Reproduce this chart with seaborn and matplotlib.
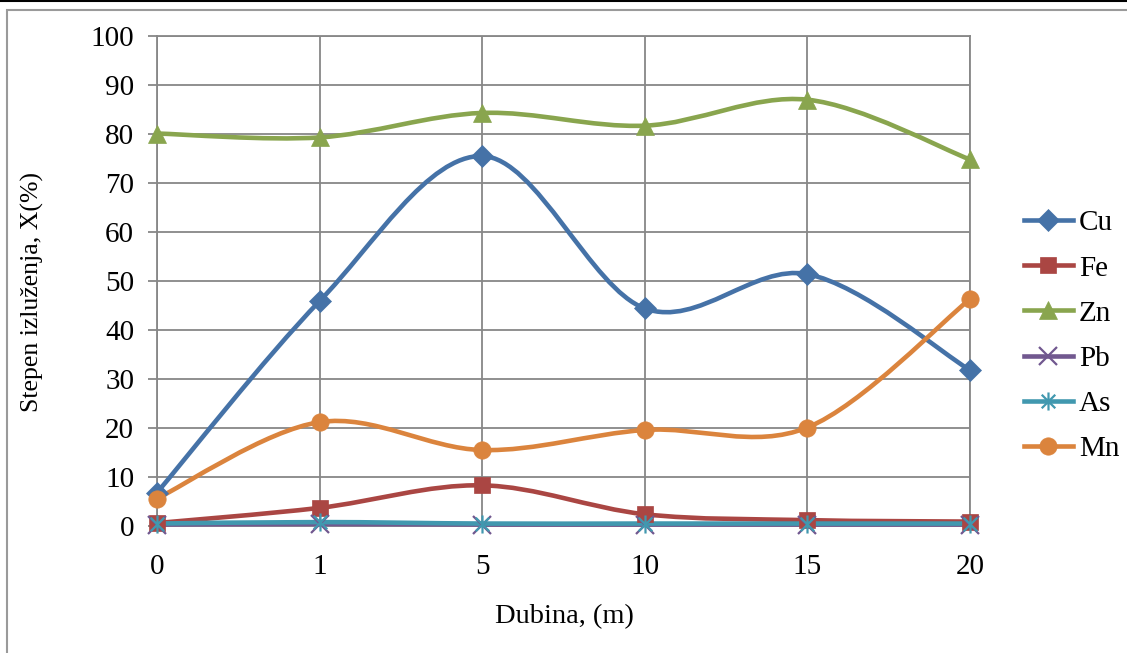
import numpy as np
import pandas as pd
import seaborn as sns
import matplotlib.pyplot as plt
from matplotlib.path import Path
from matplotlib.patches import PathPatch, Rectangle
from matplotlib.lines import Line2D

# depth categories (evenly spaced on the axis)
depths = ['0', '1', '5', '10', '15', '20']

cu = [6.8, 45.9, 75.5, 44.4, 51.4, 31.8]
fe = [0.6, 3.7, 8.3, 2.4, 1.2, 0.9]
zn = [80.1, 79.3, 84.3, 81.7, 87.0, 74.8]
pb = [0.3, 0.4, 0.3, 0.3, 0.3, 0.3]
as_ = [0.5, 0.8, 0.5, 0.5, 0.5, 0.5]
mn = [5.6, 21.2, 15.5, 19.6, 20.1, 46.3]

series_names = ['Cu', 'Fe', 'Zn', 'Pb', 'As', 'Mn']
series_vals = [cu, fe, zn, pb, as_, mn]

colors = ['#4572A7', '#AA4643', '#89A54E', '#71588F', '#4198AF', '#DB843D']

# asterisk like Excel's "star" marker (vertical + X)
star = Path([(0, -1), (0, 1), (-0.75, -0.75), (0.75, 0.75), (-0.75, 0.75), (0.75, -0.75)],
            [Path.MOVETO, Path.LINETO, Path.MOVETO, Path.LINETO, Path.MOVETO, Path.LINETO])
markers = ['D', 's', '^', 'x', star, 'o']
msizes = [11, 11, 13, 13, 13, 12.5]
filled = [True, True, True, False, False, True]


def smooth_path(xs, ys):
    # Excel-like smoothed line: cubic bezier segments through the points
    pts = np.column_stack([xs, ys]).astype(float)
    ext = np.vstack([pts[0], pts, pts[-1]])
    verts = [tuple(pts[0])]
    codes = [Path.MOVETO]
    for i in range(len(pts) - 1):
        p0, p1, p2, p3 = ext[i], ext[i + 1], ext[i + 2], ext[i + 3]
        c1 = p1 + (p2 - p0) / 6.0
        c2 = p2 - (p3 - p1) / 6.0
        verts += [tuple(c1), tuple(c2), tuple(p2)]
        codes += [Path.CURVE4] * 3
    return Path(verts, codes)


plt.rcParams['font.family'] = ['Liberation Serif', 'DejaVu Serif']
fig = plt.figure(figsize=(11.27, 6.53), dpi=100)
ax = fig.add_axes([157 / 1127, 1 - 526 / 653, (970 - 157) / 1127, (526 - 36) / 653])

x_pos = np.arange(len(depths))
for name, vals, col, mk, ms, fl in zip(series_names, series_vals, colors, markers, msizes, filled):
    df = pd.DataFrame({'x': x_pos, 'y': vals})
    ax.add_patch(PathPatch(smooth_path(df['x'], df['y']), facecolor='none', edgecolor=col,
                           lw=3.3, clip_on=False, zorder=3, capstyle='round', joinstyle='round'))
    sns.lineplot(data=df, x='x', y='y', ax=ax, linewidth=0, marker=mk, markersize=ms,
                 color=col, markeredgecolor=col, markeredgewidth=1.6 if not fl else 0.5,
                 clip_on=False, zorder=4)

ax.set_xlim(0, 5)
ax.set_ylim(0, 100)
ax.set_xticks(x_pos)
ax.set_xticklabels(depths)
ax.set_yticks(range(0, 101, 10))
ax.set_xlabel('')
ax.set_ylabel('')
ax.grid(True, color='#878787', lw=1.3, zorder=0)
ax.set_axisbelow(True)
for sp in ax.spines.values():
    sp.set_color('#878787')
    sp.set_linewidth(1.3)
ax.tick_params(axis='y', length=6.5, width=1.3, color='#878787', pad=10, labelsize=21)
ax.tick_params(axis='x', length=0, pad=20, labelsize=21)

fig.text(0.029, 0.553, 'Stepen izluženja, X(%)', rotation=90, ha='center', va='center', fontsize=18.5)
fig.text(0.501, 0.055, 'Dubina, (m)', ha='center', va='center', fontsize=20.5)

handles = [Line2D([], [], color=c, lw=3.3, marker=m, markersize=s,
                  markeredgewidth=1.6 if not f else 0.5, markeredgecolor=c)
           for c, m, s, f in zip(colors, markers, msizes, filled)]
fig.legend(handles, series_names, loc='center left', bbox_to_anchor=(1012 / 1127, 1 - 336 / 653),
           frameon=False, fontsize=21, handlelength=1.7, labelspacing=0.64, handletextpad=0.2,
           borderaxespad=0)

# outer chart border and the page line at the top
fig.patches.append(Rectangle((7 / 1127, -0.1), 1.2, 1.1 - 10 / 653, transform=fig.transFigure,
                             fill=False, edgecolor='#9a9a9a', lw=1.5))
fig.lines.append(Line2D([0, 1], [1 - 1 / 653, 1 - 1 / 653], transform=fig.transFigure,
                        color='black', lw=1.5))

fig.savefig('out.png', dpi=100)
